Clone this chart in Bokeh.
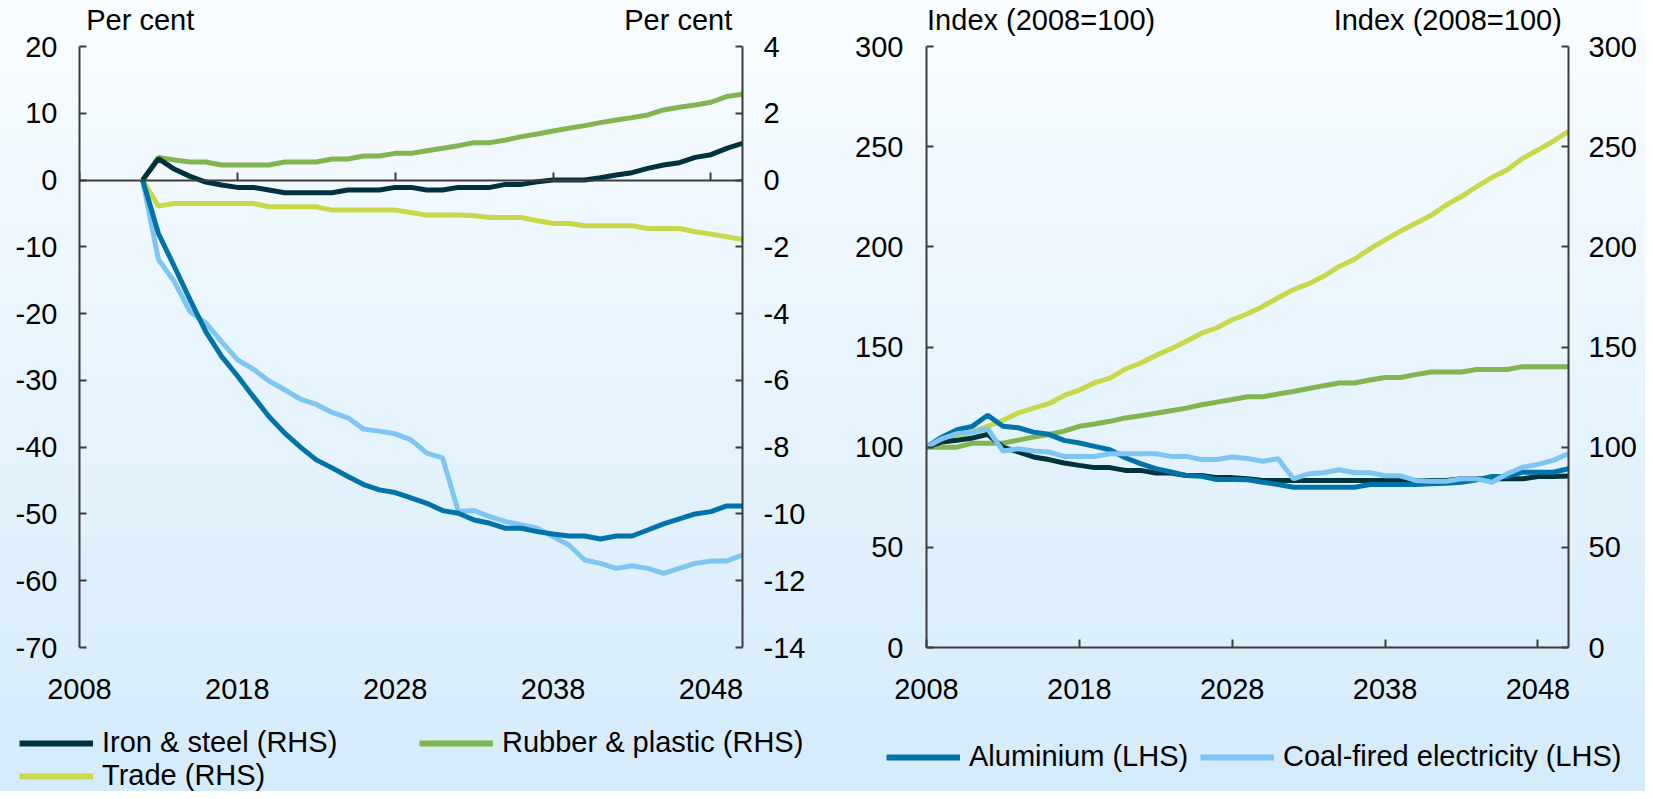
from bokeh.plotting import figure
from bokeh.models import Range1d, LinearAxis, FixedTicker, Legend, LegendItem
from bokeh.layouts import row, column
from bokeh.embed import file_html
from bokeh.resources import INLINE

# ---------------- data ----------------
YEARS_L = list(range(2012, 2051))
YEARS_R = list(range(2008, 2051))
X_TICKS = [2008, 2018, 2028, 2038, 2048]
LHS_TICKS_L = [-70, -60, -50, -40, -30, -20, -10, 0, 10, 20]
RHS_TICKS_L = [-14, -12, -10, -8, -6, -4, -2, 0, 2, 4]
TICKS_R = [0, 50, 100, 150, 200, 250, 300]

UNIT_L = "Per cent"
UNIT_R = "Index (2008=100)"
NAMES = {"iron": "Iron & steel (RHS)", "rubber": "Rubber & plastic (RHS)",
         "trade": "Trade (RHS)", "alu": "Aluminium (LHS)",
         "coal": "Coal-fired electricity (LHS)"}

# Left panel: per cent deviation
iron_pct = [0, 0.64, 0.33, 0.11, -0.06, -0.15, -0.22, -0.22, -0.30, -0.38,
            -0.38, -0.38, -0.38, -0.30, -0.30, -0.30, -0.22, -0.22, -0.30, -0.30,
            -0.22, -0.22, -0.22, -0.13, -0.13, -0.05, 0, 0, 0, 0.07,
            0.15, 0.22, 0.35, 0.45, 0.52, 0.68, 0.76, 0.95, 1.10]
rubber_pct = [0, 0.68, 0.60, 0.54, 0.54, 0.45, 0.45, 0.45, 0.45, 0.54,
              0.54, 0.54, 0.63, 0.63, 0.72, 0.72, 0.80, 0.80, 0.88, 0.95,
              1.03, 1.12, 1.12, 1.20, 1.30, 1.38, 1.47, 1.55, 1.63, 1.72,
              1.80, 1.87, 1.95, 2.10, 2.18, 2.25, 2.33, 2.50, 2.57]
trade_pct = [0, -0.78, -0.70, -0.70, -0.70, -0.70, -0.70, -0.70, -0.80, -0.80,
             -0.80, -0.80, -0.90, -0.90, -0.90, -0.90, -0.90, -0.97, -1.05, -1.05,
             -1.05, -1.07, -1.12, -1.12, -1.12, -1.22, -1.30, -1.30, -1.37, -1.37,
             -1.37, -1.37, -1.45, -1.45, -1.45, -1.55, -1.62, -1.70, -1.78]
alu_pct = [0, -8.0, -12.9, -17.9, -22.7, -26.4, -29.3, -32.4, -35.4, -37.9,
           -40.0, -41.9, -43.1, -44.4, -45.6, -46.4, -46.8, -47.6, -48.4, -49.5,
           -49.9, -50.9, -51.4, -52.15, -52.15, -52.65, -53.0, -53.3, -53.3, -53.75,
           -53.3, -53.3, -52.4, -51.5, -50.75, -50.0, -49.65, -48.8, -48.8]
coal_pct = [0, -11.9, -15.2, -19.7, -21.4, -24.2, -26.9, -28.3, -30.1, -31.4,
            -32.8, -33.6, -34.8, -35.6, -37.3, -37.6, -38.0, -38.9, -40.9, -41.6,
            -49.65, -49.5, -50.4, -51.15, -51.65, -52.15, -53.4, -54.65, -56.9, -57.4,
            -58.15, -57.75, -58.15, -58.9, -58.15, -57.4, -57.05, -57.05, -56.15]

# Right panel: index (2008=100)
trade_idx = [100, 103, 105, 107.9, 110.4, 113.4, 117, 119.5, 121.7, 125.8,
             128.5, 132.2, 134.5, 139, 141.9, 145.8, 149.1, 152.9, 156.9, 159.6,
             163.6, 166.6, 170.2, 174.6, 178.6, 181.5, 185.4, 190.2, 193.8, 199,
             203.5, 207.8, 211.8, 215.6, 220.9, 225.1, 230.1, 234.7, 238.5, 244.2,
             248.3, 252.7, 257.6]
rubber_idx = [100, 100, 100, 102, 102, 102, 103.5, 105, 106.3, 108,
              110.4, 111.6, 112.9, 114.6, 115.7, 116.9, 118.2, 119.5, 121.2, 122.5,
              123.8, 125.2, 125.2, 126.5, 127.8, 129.3, 130.7, 132.0, 132.0, 133.5,
              134.8, 134.8, 136.2, 137.5, 137.5, 137.5, 138.8, 138.8, 138.8, 140.2,
              140.2, 140.2, 140.2]
alu_idx = [100, 105, 108.7, 110.4, 115.9, 110.4, 109.7, 107.5, 106.4, 103.4,
           102.1, 100.4, 98.7, 94.7, 91.8, 89.3, 87.6, 85.8, 85.5, 83.8,
           83.8, 83.7, 82.5, 81.4, 80, 80, 80, 80, 80, 81.4,
           81.4, 81.4, 81.4, 81.7, 82, 82.5, 83.7, 85.4, 85.4, 87.5,
           87.5, 87.5, 89.2]
coal_idx = [100, 104.2, 106.7, 107.5, 109.2, 98.1, 99.2, 98.1, 97.6, 95.4,
            95.4, 95.4, 96.7, 96.7, 96.7, 96.7, 95.4, 95.4, 93.8, 93.8,
            95.1, 94.3, 93.0, 94.2, 84.2, 86.7, 87.2, 88.7, 87.2, 87.2,
            85.7, 85.7, 83.4, 83.0, 83.0, 84.2, 84.2, 82.5, 86.7, 90.0,
            91.4, 93.4, 96.7]
iron_idx = [100, 102.6, 103.4, 104.6, 106.4, 100, 97.6, 95.1, 93.8, 92.1,
            90.9, 89.8, 89.8, 88.4, 88.4, 87.1, 87.1, 85.9, 85.9, 84.8,
            84.8, 84.2, 83.4, 83.4, 83.4, 83.4, 83.4, 83.4, 83.4, 83.4,
            83.4, 83.4, 83.4, 83.4, 83.4, 84.2, 84.2, 84.2, 84.2, 84.2,
            85.4, 85.4, 85.6]

# ---------------- style ----------------
FONT = "Liberation Sans"
FS = "29px"
AX = "#3c3c3c"
C_IRON = "#00323d"
C_RUB = "#82b450"
C_TRADE = "#c8d84a"
C_ALU = "#0073a9"
C_COAL = "#7ec6f1"
LW = 5
LW_LEG = 6
BG = "linear-gradient(180deg, #f9fdff 0%, #d4ebfb 100%)"

CHART_H = 716
LEG_H = 75
W_L = 815
W_R = 830


def style_axis(ax, standoff, ticks):
    ax.ticker = FixedTicker(ticks=ticks)
    ax.axis_line_color = AX
    ax.axis_line_width = 2
    ax.major_tick_line_color = AX
    ax.major_tick_line_width = 2
    ax.major_tick_in = 7
    ax.major_tick_out = 0
    ax.minor_tick_line_color = None
    ax.major_label_text_font = FONT
    ax.major_label_text_font_size = FS
    ax.major_label_text_color = "#000000"
    ax.major_label_standoff = standoff
    ax.major_label_overrides = {t: str(t) for t in ticks}


def header_axis(p, centers, text):
    ax = LinearAxis(ticker=FixedTicker(ticks=centers))
    ax.axis_line_color = None
    ax.major_tick_line_color = None
    ax.minor_tick_line_color = None
    ax.major_tick_in = 0
    ax.major_tick_out = 0
    ax.major_label_standoff = 11
    ax.major_label_text_font = FONT
    ax.major_label_text_font_size = FS
    ax.major_label_text_color = "#000000"
    ax.major_label_overrides = {c: text for c in centers}
    p.add_layout(ax, "above")


def clean(p):
    p.title.visible = False
    p.background_fill_alpha = 0
    p.border_fill_alpha = 0
    p.outline_line_color = None


def base_fig(width, ml, mr, yr):
    p = figure(width=width, height=CHART_H,
               x_range=Range1d(2008, 2050), y_range=yr,
               min_border_left=ml, min_border_right=mr,
               min_border_top=46, min_border_bottom=CHART_H - 46 - 601,
               output_backend="svg", toolbar_location=None)
    clean(p)
    p.xgrid.visible = False
    p.ygrid.visible = False
    return p


# ---------------- left panel ----------------
pl = base_fig(W_L, 79, 73, Range1d(-70, 20))
pl.extra_y_ranges = {"rhs": Range1d(-14, 4)}

style_axis(pl.yaxis[0], 22, LHS_TICKS_L)
rax = LinearAxis(y_range_name="rhs")
style_axis(rax, 21, RHS_TICKS_L)
pl.add_layout(rax, "right")

xa = pl.xaxis[0]
style_axis(xa, 31, X_TICKS)
xa.axis_line_color = None
xa.major_tick_line_color = None

zero_ax = LinearAxis(fixed_location=0)
style_axis(zero_ax, 0, X_TICKS)
zero_ax.major_tick_in = 8
zero_ax.major_label_text_color = None
zero_ax.major_label_text_font_size = "1px"
pl.add_layout(zero_ax, "below")

header_axis(pl, [2011.85, 2045.93], UNIT_L)

pl.line(YEARS_L, rubber_pct, line_color=C_RUB, line_width=LW, y_range_name="rhs")
pl.line(YEARS_L, trade_pct, line_color=C_TRADE, line_width=LW, y_range_name="rhs")
pl.line(YEARS_L, iron_pct, line_color=C_IRON, line_width=LW, y_range_name="rhs")
pl.line(YEARS_L, coal_pct, line_color=C_COAL, line_width=LW)
pl.line(YEARS_L, alu_pct, line_color=C_ALU, line_width=LW)

# ---------------- right panel ----------------
pr = base_fig(W_R, 111, 77, Range1d(0, 300))
style_axis(pr.yaxis[0], 23, TICKS_R)
rax2 = LinearAxis()
style_axis(rax2, 20, TICKS_R)
pr.add_layout(rax2, "right")
style_axis(pr.xaxis[0], 31, X_TICKS)
pr.xaxis[0].major_tick_in = 8

header_axis(pr, [2015.5, 2042.1], UNIT_R)

pr.line(YEARS_R, rubber_idx, line_color=C_RUB, line_width=LW)
pr.line(YEARS_R, trade_idx, line_color=C_TRADE, line_width=LW)
pr.line(YEARS_R, iron_idx, line_color=C_IRON, line_width=LW)
pr.line(YEARS_R, alu_idx, line_color=C_ALU, line_width=LW)
pr.line(YEARS_R, coal_idx, line_color=C_COAL, line_width=LW)

# ---------------- legend strip ----------------
pg = figure(width=W_L + W_R, height=LEG_H, x_range=Range1d(2008, 2050),
            y_range=Range1d(0, 1), min_border=0, x_axis_type=None, y_axis_type=None,
            output_backend="svg", toolbar_location=None)
clean(pg)
g_iron = pg.line(YEARS_L, iron_pct, line_color=C_IRON, line_width=LW_LEG, visible=False)
g_rub = pg.line(YEARS_L, rubber_pct, line_color=C_RUB, line_width=LW_LEG, visible=False)
g_trd = pg.line(YEARS_L, trade_pct, line_color=C_TRADE, line_width=LW_LEG, visible=False)
g_alu = pg.line(YEARS_R, alu_idx, line_color=C_ALU, line_width=LW_LEG, visible=False)
g_coal = pg.line(YEARS_R, coal_idx, line_color=C_COAL, line_width=LW_LEG, visible=False)


def make_legend(items, loc, label_width, spacing):
    return Legend(items=items, location=loc, orientation="horizontal",
                  glyph_width=74, glyph_height=28, label_height=28,
                  label_width=label_width, label_standoff=9, spacing=spacing,
                  padding=0, margin=0, click_policy="none",
                  label_text_font=FONT, label_text_font_size=FS,
                  label_text_color="#000000",
                  background_fill_alpha=0, border_line_color=None)


leg_l1 = make_legend([LegendItem(label=NAMES["iron"], renderers=[g_iron]),
                      LegendItem(label=NAMES["rubber"], renderers=[g_rub])],
                     (19, 32), 309, 8)
leg_l2 = make_legend([LegendItem(label=NAMES["trade"], renderers=[g_trd])],
                     (19, -1), 20, 0)
leg_r = make_legend([LegendItem(label=NAMES["alu"], renderers=[g_alu]),
                     LegendItem(label=NAMES["coal"], renderers=[g_coal])],
                    (886, 18), 231, 0)
pg.add_layout(leg_l1, "center")
pg.add_layout(leg_l2, "center")
pg.add_layout(leg_r, "center")

layout = column(row(pl, pr, spacing=0), pg, spacing=0,
                styles={"background": BG})

open("out.html", "w").write(file_html(layout, INLINE))
